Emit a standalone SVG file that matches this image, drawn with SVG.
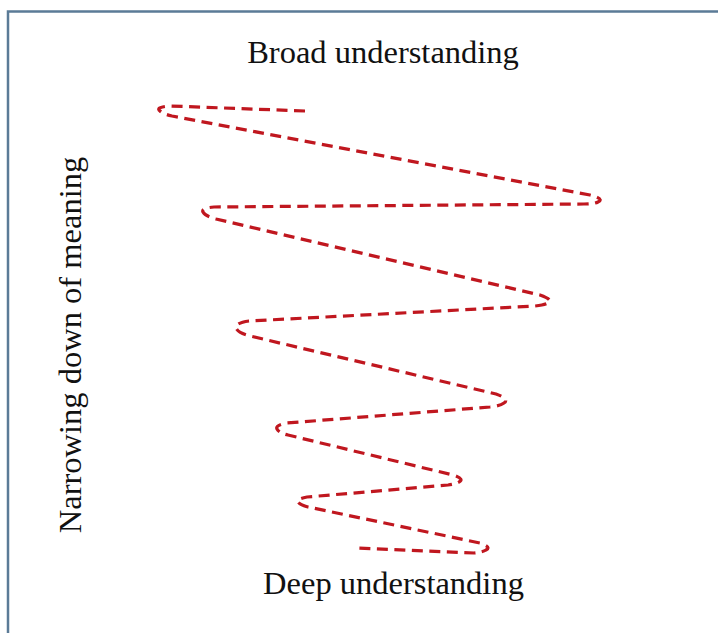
<svg xmlns="http://www.w3.org/2000/svg" width="718" height="633" viewBox="0 0 718 633">
  <style>
    .lbl { font-family: "Liberation Serif", "Times New Roman", serif; font-size: 32.5px; fill: #111; }
    .spiral { fill: none; stroke: #c0171f; stroke-width: 3.2; stroke-dasharray: 11 6.5; stroke-linecap: butt; stroke-linejoin: round; }
  </style>
  <rect x="0" y="0" width="718" height="633" fill="#ffffff"/>
  <g id="frame">
    <path d="M8,640 L8,11.5 L730,11.5" fill="none" stroke="#5b7b97" stroke-width="2.5"/>
  </g>
  <g id="top-label">
    <text class="lbl" x="383" y="63" text-anchor="middle">Broad understanding</text>
  </g>
  <g id="bottom-label">
    <text class="lbl" x="393.5" y="594" text-anchor="middle">Deep understanding</text>
  </g>
  <g id="side-label">
    <text class="lbl" transform="translate(81,345) rotate(-90)" text-anchor="middle">Narrowing down of meaning</text>
  </g>
  <g id="connectors">
    <path class="spiral" d="M305,111 L170,106 Q155,107 160,111 Q163,114 172,116 L590,195 Q605,199 598,202 Q594,204 584,204 L214,207 Q201,208 203,212 Q205,216 216,219 L540,295 Q554,300 548,303 Q545,305 535,306 L249,321 Q235,323 236,328 Q238,333 250,336 L496,394 Q510,399 504,403 Q500,406 490,407 L287,423 Q275,425 277,429 Q279,433 288,435 L453,475 Q465,479 459,482 Q456,484 448,485 L307,497 Q296,499 298,502 Q300,505 308,507 L480,543 Q492,547 486,550 Q483,552 474,553 L357,548"/>
  </g>
</svg>
